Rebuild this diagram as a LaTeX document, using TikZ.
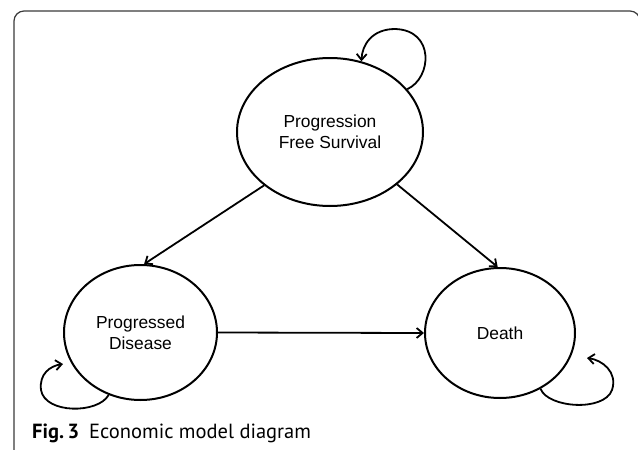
\documentclass[tikz,border=0pt]{standalone}
\usepackage{fontspec}
\setmainfont{Liberation Sans}
\newfontfamily\capfont{PT Sans}
\usetikzlibrary{shapes.geometric,arrows.meta}

\definecolor{framegray}{HTML}{3A3A3A}

\begin{document}
\begin{tikzpicture}[x=1pt, y=-1pt,
    state/.style={ellipse, draw, line width=2pt, inner sep=0pt, align=center,
      font=\fontsize{17.4}{21}\selectfont},
    trans/.style={line width=1.8pt, -{Straight Barb[length=6pt,width=10pt]}},
  ]
  \useasboundingbox (0,0) rectangle (638,450);

  % Rahmen
  \draw[framegray, line width=1.2pt, rounded corners=10pt]
    (14,470) -- (14,11) -- (640,11) -- (640,470);

  \node[state, minimum width=186pt, minimum height=148pt] (pfs) at (330,132)
    {Progression\\Free Survival};
  \node[state, minimum width=153pt, minimum height=135pt] (pd) at (140.5,332.5)
    {Progressed\\Disease};
  \node[state, minimum width=150pt, minimum height=130pt] (death) at (500,333)
    {Death};

  \draw[trans] (pfs.219) -- (pd.87);
  \draw[trans] (pfs.322) -- (death.92);
  \draw[trans] (pd.east) -- (death.west);

  % Schleifen
  \coordinate (pdtip) at (63,364);
  \coordinate (deathtip) at (587,358);
  \draw[trans] (pfs.29) .. controls (432,78) and (435,30) .. (395,29)
              .. controls (372,29) and (362,45) .. (pfs.66);
  \draw[trans] (pd.243) .. controls (98,414) and (45,414) .. (41,390)
              .. controls (39,374) and (50,366) .. (pdtip);
  \draw[trans] (death.306) .. controls (548,408) and (604,412) .. (612,390)
              .. controls (618,372) and (602,360) .. (deathtip);

  \node[anchor=base west, inner sep=0pt, font=\capfont\fontsize{20.5}{24}\selectfont] (caption) at (32,438)
    {\textbf{Fig.\,3}\hspace{10pt}Economic model diagram};
\end{tikzpicture}
\end{document}
